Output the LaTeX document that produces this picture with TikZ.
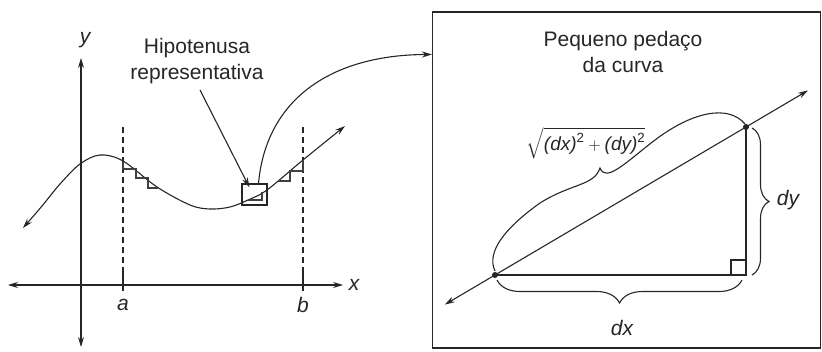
\documentclass[tikz,border=0pt]{standalone}
\usepackage{fontspec}
\setmainfont{Liberation Sans}
\usepackage{amsmath}
\usetikzlibrary{arrows.meta,decorations.pathreplacing,calc}
\begin{document}
\begin{tikzpicture}[x=1pt,y=-1pt,
  ink/.style={draw=black!85, line width=1.1pt},
  arr/.style={-{Stealth[length=10pt,width=6pt]}},
  darr/.style={{Stealth[length=10pt,width=6pt]}-{Stealth[length=10pt,width=6pt]}},
  txt/.style={font=\fontsize{21}{26}\selectfont, text=black!85, inner sep=0pt},
  itxt/.style={font=\fontsize{21}{26}\selectfont\itshape, text=black!85, inner sep=0pt},
  dashv/.style={draw=black!85, line width=1.1pt, dash pattern=on 6pt off 4pt},
  stairs/.style={draw=black!75, line width=1.1pt},
  brc/.style={ink, decorate, decoration={brace, amplitude=#1}},
  dotn/.style={circle, fill=black!85, inner sep=0pt, minimum size=6pt},
  boxn/.style={draw=black!85, line width=1.1pt, inner sep=0pt},
]
\useasboundingbox (0,0) rectangle (822,352);

% ---------- left graph ----------
\coordinate (xl) at (8,285);
\coordinate (xr) at (343,285);
\coordinate (yt) at (81,58);
\coordinate (yb) at (81,347);
\draw[ink,darr] (xl) -- (xr);
\draw[ink,darr] (yt) -- (yb);
\node[itxt] (ylab) at (85,40) {y};
\node[itxt] (xlab) at (354,285) {x};
\node[itxt] (alab) at (123,305) {a};
\node[itxt] (blab) at (303,305) {b};

% dashed limits
\draw[dashv] (123,127) -- (123,273);
\draw[ink] (123,273) -- (123,291);
\draw[dashv] (303,127) -- (303,268);
\draw[ink] (303,268) -- (303,291);

% curve
\draw[ink,darr] plot[smooth, tension=0.55] coordinates {(23,228) (42,206) (60,184) (80,164) (100,155) (123,161) (157,187) (190,205) (210,209) (230,207) (248,200) (267,190) (303,160) (345,126)};

% staircases
\draw[stairs] (123,162) -- (123,169) -- (136,169) -- (136,178) -- (148,178) -- (148,188) -- (158,188);
\draw[stairs] (278,181) -- (290,181) -- (290,171) -- (303,171) -- (303,160);

% representative hypotenuse box
\node[boxn, minimum width=25pt, minimum height=21pt] (sq) at (254.5,194.5) {};
\draw[stairs] (248,200) -- (262,200) -- (262,192);

\node[txt, align=center] (hip) at (197,61) {Hipotenusa\\representativa};
\draw[ink,arr] ($(hip.south)+(3,6)$) -- ($(sq.north west)+(8,4)$);

% ---------- right panel ----------
\node[boxn, minimum width=388pt, minimum height=336pt] (panel) at (626.5,180) {};
\coordinate (pin) at ($(panel.north west)+(0,43)$);
\draw[ink,arr] ($(sq.north)+(4,0)$) .. controls (266,100) and (330,55) .. (pin);

\node[txt, align=center] (ttl) at (623,52) {Pequeno pedaço\\da curva};

\node[dotn] (p1) at (495,275) {};
\node[dotn] (p2) at (746,127) {};
\coordinate (c) at (746,275);
\coordinate (e1) at ($(p1)!-0.2!(p2)$);
\coordinate (e2) at ($(p2)!-0.247!(p1)$);
\draw[ink,darr] (e1) -- (e2);
\draw[ink] (p1.center) -- (c) -- (p2.center);
\draw[ink] ($(c)+(-15,0)$) -- ++(0,-15) -- ++(15,0);

% braces
\draw[brc=23pt] (742,280) -- (497,280);
\draw[brc=17pt] (752,128) -- (752,275);
\draw[ink] ($(p1)+(0,-4)$) .. controls (486,252) and (505,228) .. (540,203)
  .. controls (572,183) and (594,186) .. (600,168)
  .. controls (606,183) and (625,163) .. (655,140)
  .. controls (692,112) and (728,104) .. ($(p2)+(-1,-3)$);

\node[itxt] (dxl) at (622,328) {dx};
\node[itxt] (dyl) at (788,200) {dy};
\node[txt, font=\fontsize{19}{22}\selectfont] (hl) at (586,143) {$\sqrt{\textit{(dx)}^{\text{2}}+\textit{(dy)}^{\text{2}}}$};
\end{tikzpicture}
\end{document}
